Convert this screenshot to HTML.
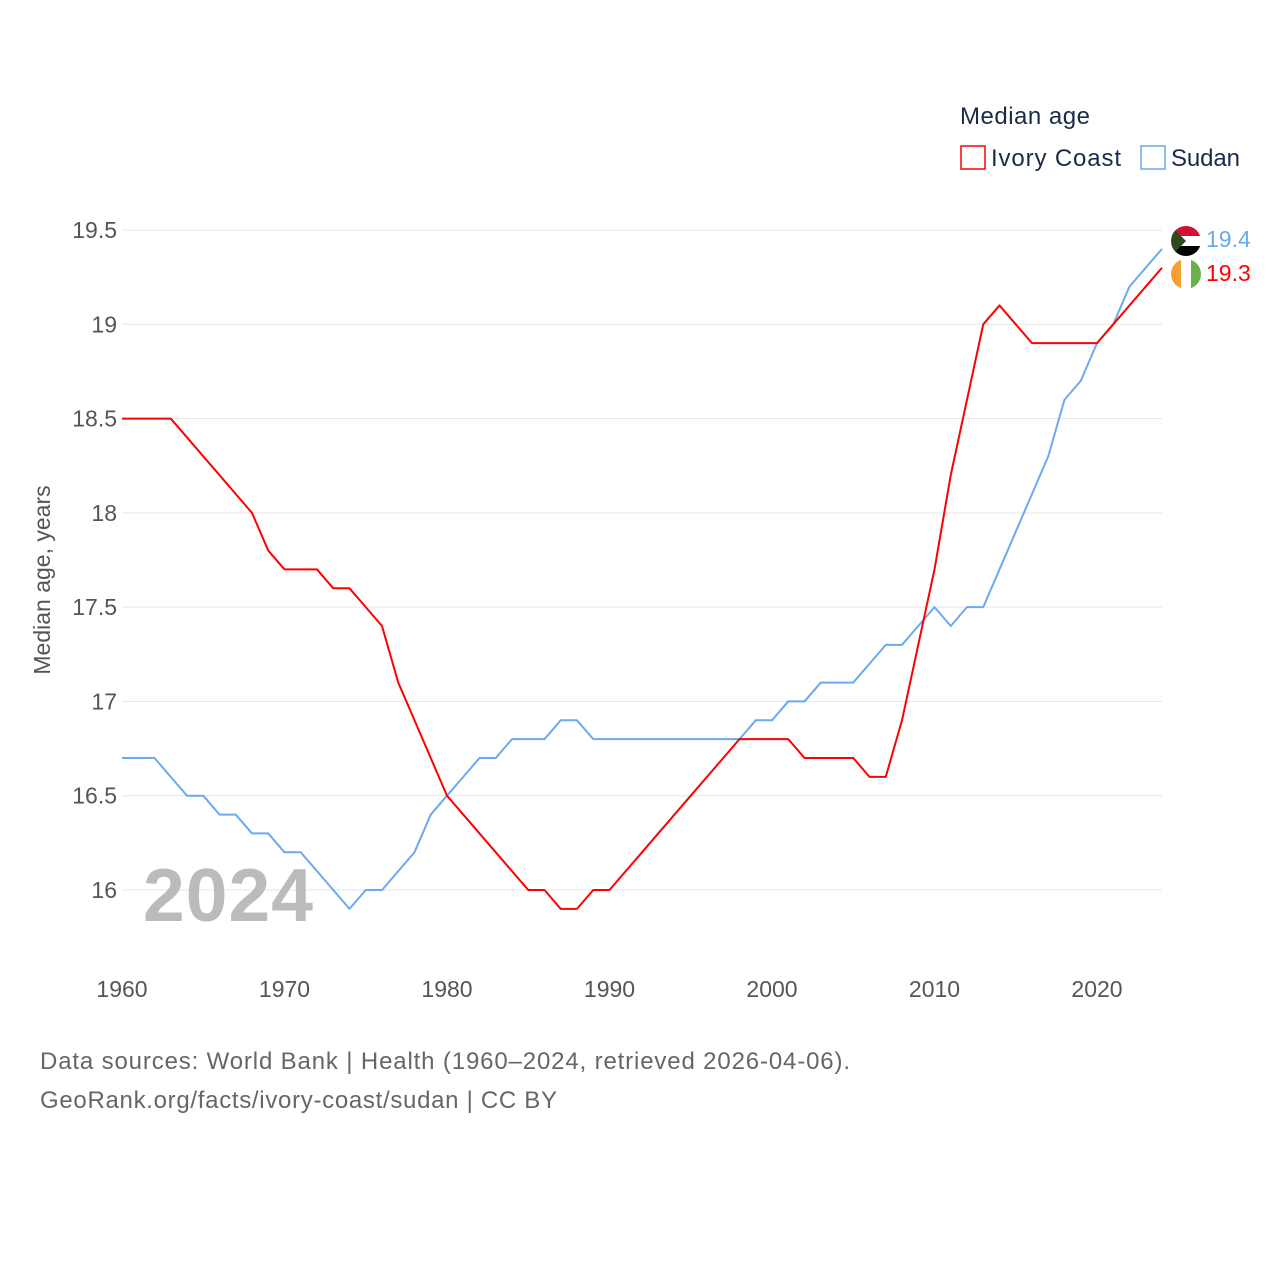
<!DOCTYPE html>
<html><head><meta charset="utf-8"><style>
body{margin:0;background:#fff;font-family:"Liberation Sans",sans-serif}
svg text{font-family:"Liberation Sans",sans-serif}
</style></head><body>
<svg id="chart" width="1280" height="1280" xmlns="http://www.w3.org/2000/svg">
<g id="grid"></g>
<g id="yticks"></g>
<g id="xticks"></g>
<text transform="translate(50,580) rotate(-90)" text-anchor="middle" font-size="23" fill="#555">Median age, years</text>
<text x="228" y="921" text-anchor="middle" font-size="75" font-weight="bold" fill="#bbb" textLength="170">2024</text>
<g id="lines"></g>
<g>
<text x="960" y="124" font-size="24" fill="#1a2a4a" textLength="130">Median age</text>
<g><rect x="961" y="146" width="24" height="23" fill="none" stroke="#f00" stroke-width="1.5"/><text x="991" y="166" font-size="24" fill="#1a2a4a" textLength="130">Ivory Coast</text></g>
<g><rect x="1141" y="146" width="24" height="23" fill="none" stroke="#6aaaee" stroke-width="1.5"/><text x="1171" y="166" font-size="24" fill="#1a2a4a" textLength="69">Sudan</text></g>
</g>
<g><clipPath id="c1"><circle cx="1186" cy="241" r="15"/></clipPath><g clip-path="url(#c1)"><rect x="1171" y="226" width="30" height="10" fill="#d21034"/><rect x="1171" y="236" width="30" height="10" fill="#fff"/><rect x="1171" y="246" width="30" height="10" fill="#000"/><polygon points="1171,226 1186,241 1171,256" fill="#2d4a1e"/></g></g>
<g><clipPath id="c2"><circle cx="1186" cy="274" r="15"/></clipPath><g clip-path="url(#c2)"><rect x="1171" y="259" width="10" height="30" fill="#f7a030"/><rect x="1181" y="259" width="10" height="30" fill="#fff"/><rect x="1191" y="259" width="10" height="30" fill="#6ab04c"/></g></g>
<text x="1206" y="247" font-size="23" fill="#6aaaee">19.4</text>
<text x="1206" y="281" font-size="23" fill="#f00">19.3</text>
<text x="40" y="1069" font-size="24" fill="#666" textLength="810">Data sources: World Bank | Health (1960–2024, retrieved 2026-04-06).</text>
<text x="40" y="1108" font-size="24" fill="#666" textLength="517">GeoRank.org/facts/ivory-coast/sudan | CC BY</text>
</svg>
<script>
const years=[];for(let y=1960;y<=2024;y++)years.push(y);
const ivoryCoast=[18.5,18.5,18.5,18.5,18.4,18.3,18.2,18.1,18.0,17.8,17.7,17.7,17.7,17.6,17.6,17.5,17.4,17.1,16.9,16.7,16.5,16.4,16.3,16.2,16.1,16.0,16.0,15.9,15.9,16.0,16.0,16.1,16.2,16.3,16.4,16.5,16.6,16.7,16.8,16.8,16.8,16.8,16.7,16.7,16.7,16.7,16.6,16.6,16.9,17.3,17.7,18.2,18.6,19.0,19.1,19.0,18.9,18.9,18.9,18.9,18.9,19.0,19.1,19.2,19.3];
const sudan=[16.7,16.7,16.7,16.6,16.5,16.5,16.4,16.4,16.3,16.3,16.2,16.2,16.1,16.0,15.9,16.0,16.0,16.1,16.2,16.4,16.5,16.6,16.7,16.7,16.8,16.8,16.8,16.9,16.9,16.8,16.8,16.8,16.8,16.8,16.8,16.8,16.8,16.8,16.8,16.9,16.9,17.0,17.0,17.1,17.1,17.1,17.2,17.3,17.3,17.4,17.5,17.4,17.5,17.5,17.7,17.9,18.1,18.3,18.6,18.7,18.9,19.0,19.2,19.3,19.4];
const yTicks=[16,16.5,17,17.5,18,18.5,19,19.5];
const yTickLabels=["16","16.5","17","17.5","18","18.5","19","19.5"];
const xTicks=[1960,1970,1980,1990,2000,2010,2020];
const X=y=>122+(y-1960)*16.25;
const Y=v=>890-(v-16)*188.57;
const NS="http://www.w3.org/2000/svg";
function mk(t,a,p){const e=document.createElementNS(NS,t);for(const k in a)e.setAttribute(k,a[k]);p.appendChild(e);return e;}
const grid=document.getElementById('grid'),yt=document.getElementById('yticks'),xt=document.getElementById('xticks'),lines=document.getElementById('lines');
yTicks.forEach((v,i)=>{
 const l=mk('line',{x1:122,x2:1162,y1:Y(v),y2:Y(v),stroke:'#e6e6e6','stroke-width':1},grid);
 
 
 const t=mk('text',{x:117,y:Y(v)+8,'text-anchor':'end','font-size':23,fill:'#555'},yt);t.textContent=yTickLabels[i];
 
 
});
xTicks.forEach(v=>{
 const t=mk('text',{x:X(v),y:997,'text-anchor':'middle','font-size':23,fill:'#555'},xt);t.textContent=v;
 
 
});
function line(d,c,n){
 const p=mk('polyline',{points:d.map((v,i)=>X(years[i])+','+Y(v)).join(' '),fill:'none',stroke:c,'stroke-width':2,'stroke-linejoin':'round'},lines);
 
 
}
line(sudan,'#6aaaee','sudan-line');
line(ivoryCoast,'#f00','ivory-coast-line');
</script>
</body></html>
